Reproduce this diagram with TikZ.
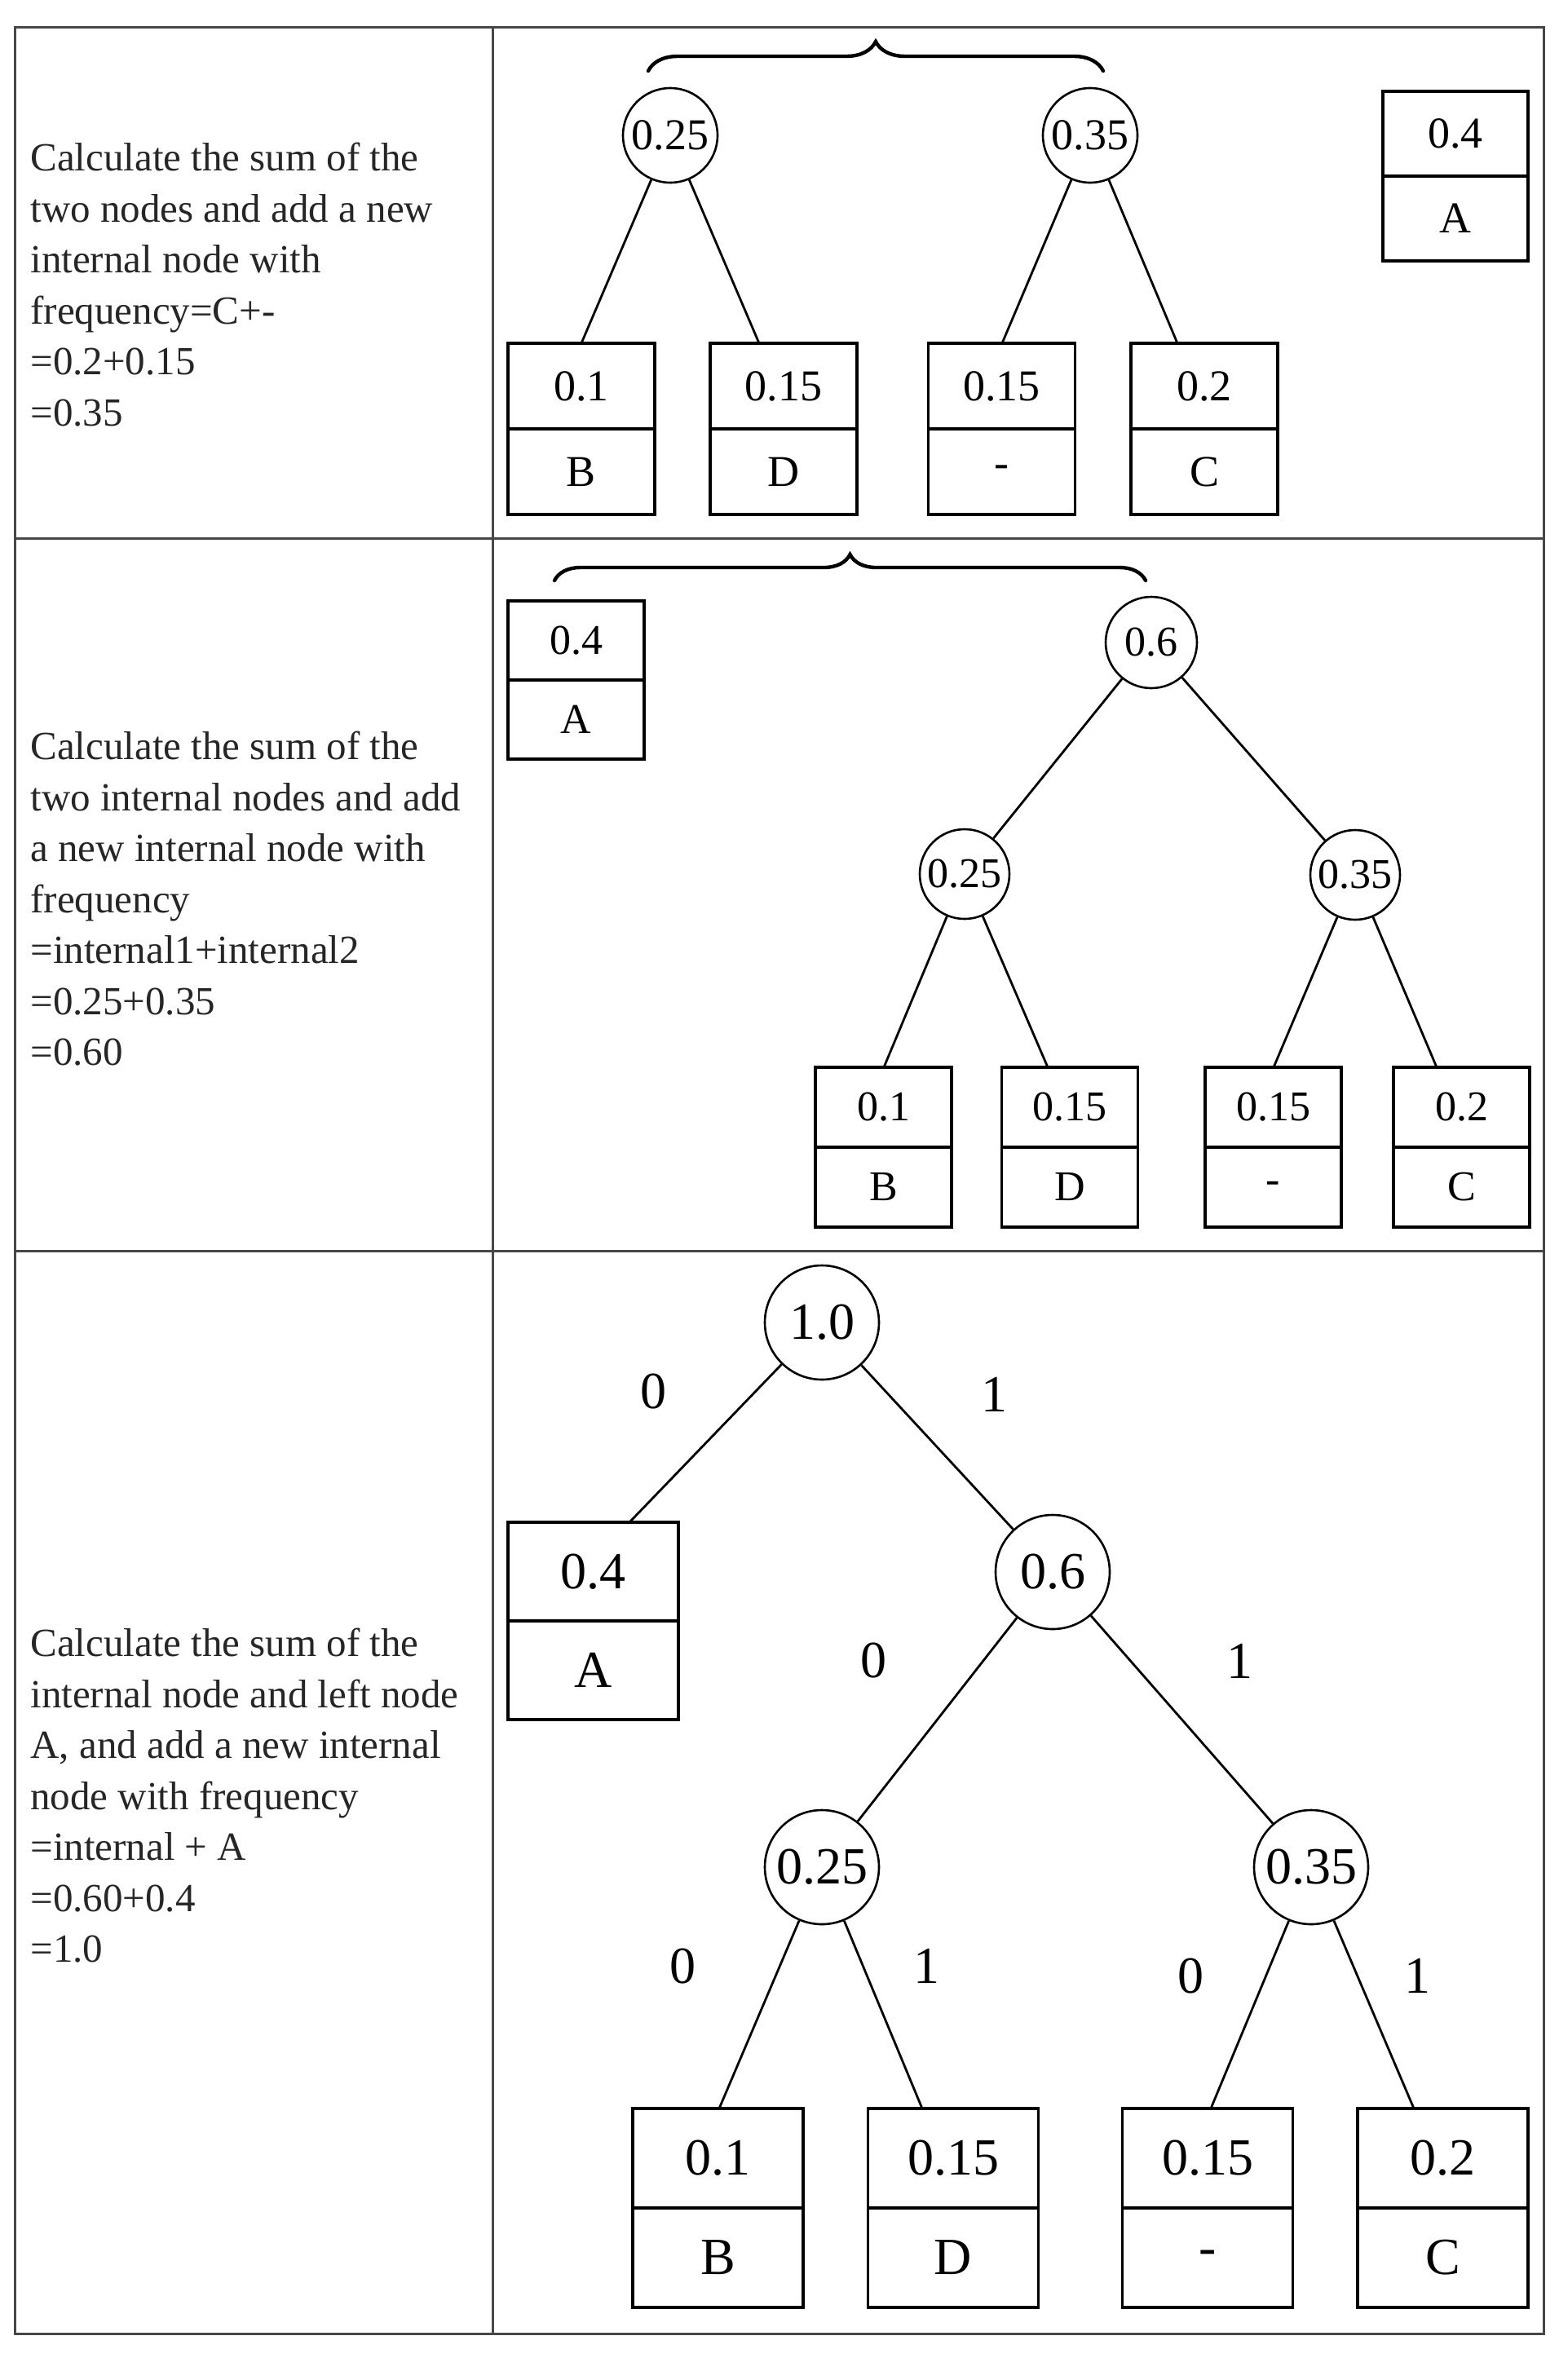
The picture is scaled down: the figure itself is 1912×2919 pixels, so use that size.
\documentclass[tikz,border=0pt]{standalone}
\usepackage{fontspec}
\setmainfont{Liberation Serif}
\usetikzlibrary{decorations.pathreplacing}
\begin{document}
\begin{tikzpicture}[x=0.5pt,y=-0.5pt,
  tbl/.style={draw=black!72, line width=1.5pt},
  desc/.style={anchor=north west, align=left, inner sep=0pt, text=black!85, font=\fontsize{24.5}{31.25}\selectfont},
  cnode/.style={circle, draw, line width=1.3pt, inner sep=0pt, minimum size=#1},
  cellbox/.style 2 args={draw, line width=1.6pt, minimum width=#1, minimum height=#2, inner sep=0pt},
  link/.style={line width=1.4pt},
  bracepath/.style={decorate, decoration={brace, amplitude=#1}, line width=2.2pt, line cap=round},
  fa/.style={font=\fontsize{27}{30}\selectfont},
  fb/.style={font=\fontsize{26}{30}\selectfont},
  fc/.style={font=\fontsize{32}{36}\selectfont}
]
\useasboundingbox (0,0) rectangle (1912,2919);
\fill[white] (0,0) rectangle (1912,2919);

% table
\draw[tbl] (18,33) rectangle (1893,2862);
\draw[tbl] (604,33) -- (604,2862);
\draw[tbl] (18,660) -- (1893,660);
\draw[tbl] (18,1534) -- (1893,1534);

% descriptions
\node[desc] (t1) at (37,175) {Calculate the sum of the\\two nodes and add a new\\internal node with\\frequency=C+-\\=0.2+0.15\\=0.35};
\node[desc] (t2) at (37,897) {Calculate the sum of the\\two internal nodes and add\\a new internal node with\\frequency\\=internal1+internal2\\=0.25+0.35\\=0.60};
\node[desc] (t3) at (37,1997) {Calculate the sum of the\\internal node and left node\\A, and add a new internal\\node with frequency\\=internal + A\\=0.60+0.4\\=1.0};

% ---------------- section 1
\coordinate (br1s) at (795,87);
\coordinate (br1e) at (1353,87);
\draw[bracepath=18pt] (br1s) -- (br1e);
\node[cnode=58pt, fa] (s1a) at (822,166) {0.25};
\node[cnode=58pt, fa] (s1b) at (1337,166) {0.35};
\node[cellbox={89pt}{52pt}, fa] (s1Av) at (1785,164) {0.4};
\node[cellbox={89pt}{52pt}, fa] (s1Al) at (1785,268) {A};
\node[cellbox={90pt}{52.5pt}, fa] (s1Bv) at (713,473.5) {0.1};
\node[cellbox={90pt}{52.5pt}, fa] (s1Bl) at (713,578.5) {B};
\node[cellbox={90pt}{52.5pt}, fa] (s1Dv) at (961,473.5) {0.15};
\node[cellbox={90pt}{52.5pt}, fa] (s1Dl) at (961,578.5) {D};
\node[cellbox={90pt}{52.5pt}, fa] (s1Xv) at (1228.5,473.5) {0.15};
\node[cellbox={90pt}{52.5pt}, fa] (s1Xl) at (1228.5,578.5) {-};
\node[cellbox={90pt}{52.5pt}, fa] (s1Cv) at (1477,473.5) {0.2};
\node[cellbox={90pt}{52.5pt}, fa] (s1Cl) at (1477,578.5) {C};
\coordinate (s1Be) at (713,421);
\coordinate (s1De) at (931,421);
\coordinate (s1Xe) at (1229,421);
\coordinate (s1Ce) at (1444,421);
\draw[link] (s1a) -- (s1Be);
\draw[link] (s1a) -- (s1De);
\draw[link] (s1b) -- (s1Xe);
\draw[link] (s1b) -- (s1Ce);

% ---------------- section 2
\coordinate (br2s) at (680,712);
\coordinate (br2e) at (1405,712);
\draw[bracepath=16pt] (br2s) -- (br2e);
\node[cellbox={83.5pt}{48.5pt}, fb] (s2Av) at (706.5,785.5) {0.4};
\node[cellbox={83.5pt}{48.5pt}, fb] (s2Al) at (706.5,882.5) {A};
\node[cnode=56pt, fb] (s2r) at (1412,788) {0.6};
\node[cnode=55pt, fb] (s2a) at (1183,1072) {0.25};
\node[cnode=55pt, fb] (s2b) at (1662,1073) {0.35};
\node[cellbox={83.5pt}{49pt}, fb] (s2Bv) at (1083.5,1358) {0.1};
\node[cellbox={83.5pt}{49pt}, fb] (s2Bl) at (1083.5,1456) {B};
\node[cellbox={83.5pt}{49pt}, fb] (s2Dv) at (1312,1358) {0.15};
\node[cellbox={83.5pt}{49pt}, fb] (s2Dl) at (1312,1456) {D};
\node[cellbox={83.5pt}{49pt}, fb] (s2Xv) at (1561.5,1358) {0.15};
\node[cellbox={83.5pt}{49pt}, fb] (s2Xl) at (1561.5,1456) {-};
\node[cellbox={83.5pt}{49pt}, fb] (s2Cv) at (1792.5,1358) {0.2};
\node[cellbox={83.5pt}{49pt}, fb] (s2Cl) at (1792.5,1456) {C};
\coordinate (s2Be) at (1084,1309);
\coordinate (s2De) at (1285,1309);
\coordinate (s2Xe) at (1562,1309);
\coordinate (s2Ce) at (1762,1309);
\draw[link] (s2r) -- (s2a);
\draw[link] (s2r) -- (s2b);
\draw[link] (s2a) -- (s2Be);
\draw[link] (s2a) -- (s2De);
\draw[link] (s2b) -- (s2Xe);
\draw[link] (s2b) -- (s2Ce);

% ---------------- section 3
\node[cnode=70pt, fc] (s3r) at (1008,1622) {1.0};
\node[cnode=70pt, fc] (s3m) at (1291,1928) {0.6};
\node[cnode=70pt, fc] (s3a) at (1008,2290) {0.25};
\node[cnode=70pt, fc] (s3b) at (1608,2290) {0.35};
\node[cellbox={104.5pt}{60.5pt}, fc] (s3Av) at (727.5,1927.5) {0.4};
\node[cellbox={104.5pt}{60.5pt}, fc] (s3Al) at (727.5,2048.5) {A};
\node[cellbox={104.5pt}{61pt}, fc] (s3Bv) at (880.5,2647) {0.1};
\node[cellbox={104.5pt}{61pt}, fc] (s3Bl) at (880.5,2769) {B};
\node[cellbox={104.5pt}{61pt}, fc] (s3Dv) at (1169,2647) {0.15};
\node[cellbox={104.5pt}{61pt}, fc] (s3Dl) at (1169,2769) {D};
\node[cellbox={104.5pt}{61pt}, fc] (s3Xv) at (1481,2647) {0.15};
\node[cellbox={104.5pt}{61pt}, fc] (s3Xl) at (1481,2769) {-};
\node[cellbox={104.5pt}{61pt}, fc] (s3Cv) at (1769.5,2647) {0.2};
\node[cellbox={104.5pt}{61pt}, fc] (s3Cl) at (1769.5,2769) {C};
\coordinate (s3Ae) at (772,1867);
\coordinate (s3Be) at (882,2586);
\coordinate (s3De) at (1131,2586);
\coordinate (s3Xe) at (1485,2586);
\coordinate (s3Ce) at (1734,2586);
\draw[link] (s3r) -- (s3Ae);
\draw[link] (s3r) -- (s3m);
\draw[link] (s3m) -- (s3a);
\draw[link] (s3m) -- (s3b);
\draw[link] (s3a) -- (s3Be);
\draw[link] (s3a) -- (s3De);
\draw[link] (s3b) -- (s3Xe);
\draw[link] (s3b) -- (s3Ce);
\node[fc] (e1) at (801,1707) {0};
\node[fc] (e2) at (1219,1710) {1};
\node[fc] (e3) at (1071,2037) {0};
\node[fc] (e4) at (1520,2037) {1};
\node[fc] (e5) at (837,2411) {0};
\node[fc] (e6) at (1136,2411) {1};
\node[fc] (e7) at (1460,2423) {0};
\node[fc] (e8) at (1738,2423) {1};
\end{tikzpicture}
\end{document}
